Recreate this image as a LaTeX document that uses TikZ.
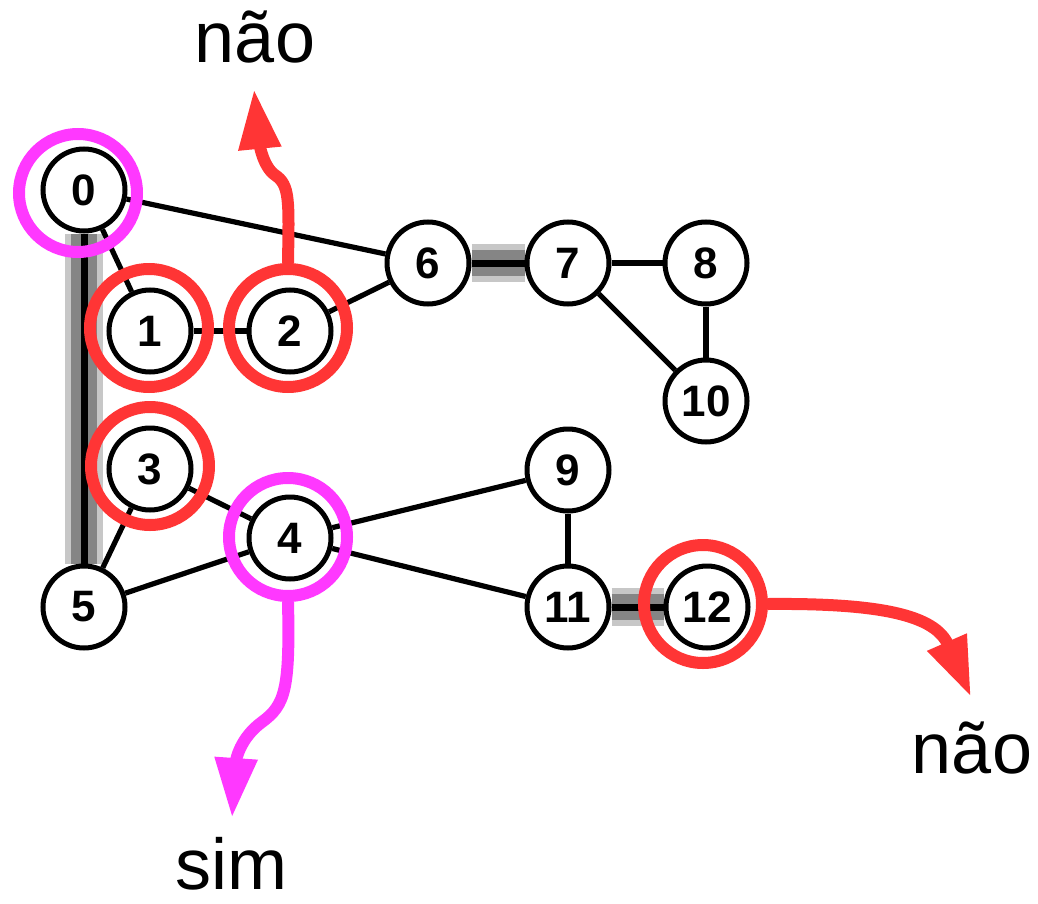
\documentclass[tikz,border=0pt]{standalone}
\usepackage{fontspec}
\setmainfont{Liberation Sans}
\usetikzlibrary{arrows.meta}
\usetikzlibrary{backgrounds}
\definecolor{ringred}{HTML}{FF3535}
\definecolor{ringmag}{HTML}{FF38FF}

\begin{document}
\begin{tikzpicture}[x=0.5pt,y=-0.5pt,
    vertex/.style={circle,draw=black,line width=2.5pt,fill=white,minimum size=41pt,inner sep=0pt,font=\fontsize{22}{22}\selectfont\bfseries},
    edge/.style={line width=2.6pt,black},
    bridge/.style={line width=3.5pt,black},
    ringr/.style={circle,draw=ringred,line width=6pt,minimum size=59pt,inner sep=0pt},
    ringm/.style={circle,draw=ringmag,line width=6pt,minimum size=59pt,inner sep=0pt},
    answer/.style={anchor=base,inner sep=0pt,font=\fontsize{36}{36}\selectfont},
    pointer/.style={line width=6pt,-{Triangle[length=30pt,width=20pt]}}]

    \useasboundingbox (0,0) rectangle (1038,904);

    % vertices
    \node[vertex] (n0) at (84,190) {0};
    \node[vertex] (n1) at (150,331) {1};
    \node[vertex] (n2) at (290,331) {2};
    \node[vertex] (n3) at (150,469) {3};
    \node[vertex] (n4) at (290,538) {4};
    \node[vertex] (n5) at (84,607) {5};
    \node[vertex] (n6) at (428,263) {6};
    \node[vertex] (n7) at (568,263) {7};
    \node[vertex] (n8) at (706,263) {8};
    \node[vertex] (n9) at (568,470) {9};
    \node[vertex] (n10) at (706,401) {10};
    \node[vertex] (n11) at (568,607) {11};
    \node[vertex] (n12) at (707,607) {12};

    % edges, behind the vertices
    \begin{pgfonlayer}{background}
      \foreach \a/\b in {n0/n5,n6/n7,n11/n12} {
        \draw[line width=19pt,black!22] (\a) -- (\b);
        \draw[line width=13pt,black!48] (\a) -- (\b);
        \draw[bridge] (\a) -- (\b);
      }
      \draw[edge] (n0) -- (n1);
      \draw[edge] (n0) -- (n6);
      \draw[edge] (n1) -- (n2);
      \draw[edge] (n2) -- (n6);
      \draw[edge] (n7) -- (n8);
      \draw[edge] (n7) -- (n10);
      \draw[edge] (n8) -- (n10);
      \draw[edge] (n3) -- (n4);
      \draw[edge] (n3) -- (n5);
      \draw[edge] (n4) -- (n5);
      \draw[edge] (n4) -- (n9);
      \draw[edge] (n4) -- (n11);
      \draw[edge] (n9) -- (n11);
    \end{pgfonlayer}

    % rings
    \node[ringm] (r0) at (78,193) {};
    \node[ringr] (r1) at (149,328) {};
    \node[ringr] (r2) at (288,328) {};
    \node[ringr] (r3) at (150,466) {};
    \node[ringm] (r4) at (288,537) {};
    \node[ringr] (r12) at (703,604) {};

    % answers
    \node[answer] (naoA) at (255,63) {não};
    \node[answer] (sim) at (231,889) {sim};
    \node[answer] (naoB) at (972,773) {não};
    \coordinate (tipA) at (254,89);
    \coordinate (tipB) at (232,818);
    \coordinate (tipC) at (971,697);

    % arrows
    \draw[pointer,ringred] (r2.north) .. controls (289,200) and (290,185) .. (275,175) .. controls (262,166) and (259,140) .. (tipA);
    \draw[pointer,ringmag] (r4.south) .. controls (290,690) and (285,705) .. (262,722) .. controls (240,738) and (236,760) .. (tipB);
    \draw[pointer,ringred] (r12.east) .. controls (880,603) and (935,615) .. (tipC);
\end{tikzpicture}
\end{document}
